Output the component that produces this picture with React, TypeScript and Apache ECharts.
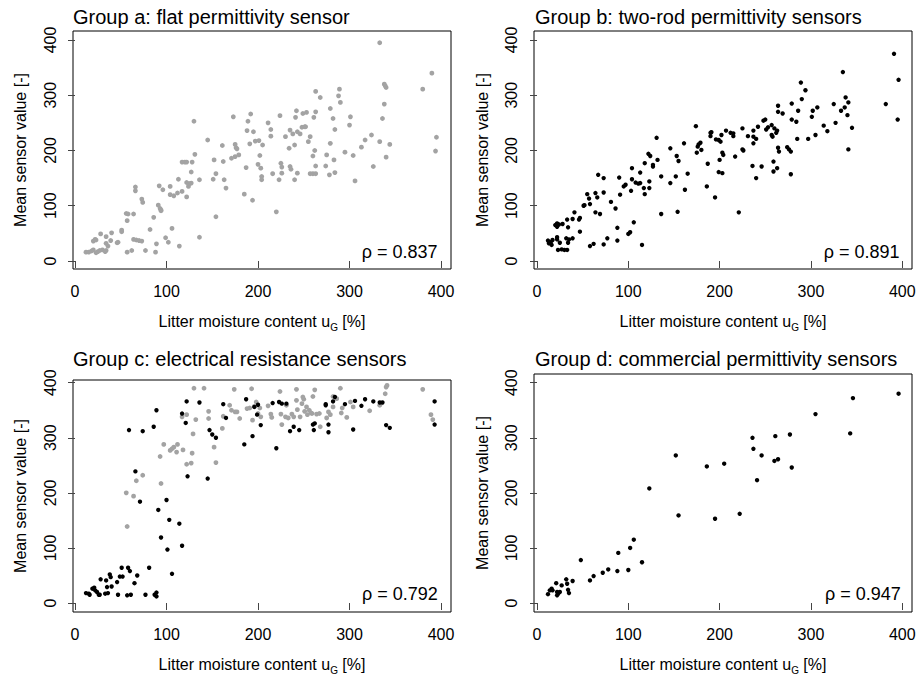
import React, { useEffect, useRef } from "react";
import * as echarts from "echarts";

const tickValues = [0, 100, 200, 300, 400];

const titles = [
  "Group a: flat permittivity sensor",
  "Group b: two-rod permittivity sensors",
  "Group c: electrical resistance sensors",
  "Group d: commercial permittivity sensors",
];
const rhoLabels = ["ρ = 0.837", "ρ = 0.891", "ρ = 0.792", "ρ = 0.947"];
const xAxisTitle = "Litter moisture content u";
const xAxisSub = "G";
const xAxisTail = " [%]";
const yAxisTitle = "Mean sensor value [-]";

const groupA = [
  [12,16],[15,16],[18,18],[20,20],[23,15],[25,17],[27,19],[30,20],[33,17],[34,19],
  [20,36],[22,39],[23,38],[28,49],[34,32],[34,44],[36,27],[39,37],[40,51],[46,33],[47,34],
  [51,56],[51,53],[56,86],[58,85],[57,73],[64,85],[57,16],[62,19],
  [66,134],[66,127],[73,112],[74,106],
  [64,39],[67,38],[70,37],[73,36],[77,19],[82,57],[86,79],[88,16],[89,31],
  [91,101],[93,95],[94,92],[94,91],[92,136],[96,129],[99,42],[102,34],[104,135],[104,120],[106,59],[108,118],[112,123],[113,148],[114,27],
  [117,179],[120,179],[122,179],[117,126],[122,142],[122,116],[124,135],[125,140],[127,141],[127,161],[128,179],[131,193],[130,253],[136,147],[136,43],
  [145,219],[151,148],[152,183],[154,158],[154,80],[161,209],[162,180],[163,147],[165,132],
  [171,186],[173,261],[175,189],[175,211],[176,205],[177,203],[179,192],[185,121],[187,169],[189,253],[188,236],[192,266],[191,212],[194,110],[195,234],
  [197,217],[200,175],[201,218],[202,191],[203,168],[204,153],[204,147],[205,210],
  [211,250],[214,238],[214,226],[220,89],[216,158],[223,147],[224,263],[225,177],[226,170],[226,159],[230,225],[234,204],[235,237],[235,171],[236,166],[238,230],[240,147],[240,210],[241,260],[242,272],[243,234],[243,159],[246,230],[248,242],[249,267],[251,243],[252,243],[253,269],[255,216],[257,225],[257,158],[260,158],[260,190],[261,260],[262,200],[263,270],[263,172],[263,158],[263,307],[268,296],[274,172],[275,192],[278,156],[279,213],[279,276],[282,258],[283,183],[284,160],[284,238],[288,299],[289,311],[290,287],[295,197],[300,246],[301,261],[304,191],[306,145],[313,206],[317,219],[324,228],[326,171],[333,216],[333,395],[336,258],[338,284],[338,320],[339,317],[340,314],[340,188],[344,211],[380,311],[390,340],[395,224],[394,199],
];

const groupB = [
  [12,37],[13,32],[15,34],[16,29],[17,38],[22,43],[22,39],[23,20],[25,33],[27,21],[30,20],[33,20],[32,41],[34,33],[35,39],[34,61],[20,65],[22,68],[22,62],[24,66],[28,67],[33,75],[39,41],[39,76],[41,88],[46,75],[47,78],[47,53],
  [51,100],[52,101],[55,121],[57,113],[58,103],[58,27],[62,31],[64,123],[66,115],[64,88],[69,85],[67,156],[73,150],[73,30],[73,124],[77,41],[81,107],[86,95],[88,60],[88,37],[90,151],[91,120],
  [95,135],[97,138],[100,49],[102,52],[103,127],[104,148],[104,168],[106,70],[108,142],[111,140],[113,141],[113,160],[118,177],[117,132],[118,121],[123,132],[122,194],[124,190],[123,144],[127,171],[127,174],[131,223],[132,183],[115,29],
  [136,85],[136,153],[146,141],[146,204],[152,153],[153,190],[154,89],[155,181],[161,213],[162,129],[165,158],
  [174,244],[176,207],[177,211],[179,214],[175,196],[180,201],[186,135],[187,176],[190,232],[191,233],[190,226],[195,115],[196,220],[199,161],[199,219],[200,183],[201,216],[202,228],[203,196],[203,159],[204,192],
  [207,236],[212,232],[215,231],[215,226],[217,189],[221,88],[225,240],[225,202],[226,200],[231,226],[236,172],[237,236],[237,225],[237,213],[240,221],[240,150],[242,243],[246,171],[248,254],[250,256],[251,238],[253,242],[257,246],[257,228],[258,225],[259,180],[259,162],[260,240],[262,232],[263,236],[263,168],[264,281],[264,270],[264,205],[265,198],[269,267],[274,206],[276,202],[278,198],[278,157],[279,285],[279,256],[284,252],[285,221],[286,272],[289,323],[290,293],[294,309],[297,221],[301,261],[302,272],[305,228],[307,278],[314,245],[318,235],[325,284],[327,250],[333,272],[335,342],[337,278],[338,296],[340,264],[341,287],[341,202],[345,241],[382,284],[391,375],[395,256],[396,328],
];

const groupCGray = [
  [56,200],[57,139],[64,194],[67,222],[74,232],[93,266],[97,288],[94,217],[104,277],[106,280],[108,283],[111,274],[112,288],[117,338],[118,278],[122,252],[122,342],[127,254],[128,272],[129,307],[130,390],[132,333],[141,390],[146,348],[146,335],[152,283],[154,255],[161,317],[162,339],[169,359],[171,350],[174,388],[175,347],[177,347],[180,335],[188,353],[191,354],[193,389],[194,332],[196,357],[198,365],[200,344],[202,354],[203,338],[211,358],[214,343],[215,337],[224,384],[225,343],[226,324],[230,338],[231,359],[233,336],[237,343],[239,338],[242,388],[242,368],[243,351],[246,338],[248,362],[249,374],[250,370],[251,348],[253,356],[254,342],[256,350],[258,345],[259,344],[260,375],[262,387],[264,343],[267,344],[268,320],[275,336],[277,347],[279,342],[282,356],[282,375],[286,371],[290,390],[291,345],[292,354],[297,337],[301,365],[304,356],[322,349],[333,359],[339,380],[340,392],[341,395],[380,388],[389,342],[391,333],
];

const groupCBlack = [
  [12,18],[15,17],[16,15],[19,26],[21,28],[22,23],[24,20],[26,15],[27,15],[28,43],[33,17],[34,41],[35,29],[36,18],[38,52],[39,47],[40,30],[46,38],[47,15],[49,48],[51,64],[52,48],[57,14],[58,64],[60,58],[61,15],[65,36],[68,50],[77,15],[81,64],[87,15],[89,12],[89,19],[106,53],
  [59,314],[66,239],[71,184],[74,312],[86,320],[89,350],[91,169],[94,119],[100,187],[101,97],[103,151],[114,144],[117,104],[117,344],[121,327],[122,366],[123,230],[136,364],[145,226],[147,314],[150,306],[154,300],[162,361],[165,336],[185,288],[187,370],[194,303],[196,356],[199,342],[200,360],[203,323],[216,363],[220,281],[223,365],[226,362],[231,362],[235,312],[239,320],[245,314],[260,324],[261,314],[262,326],[274,361],[274,359],[277,310],[277,324],[282,366],[284,374],[295,361],[304,315],[306,367],[313,358],[317,370],[326,366],[333,364],[336,364],[340,323],[344,318],[393,366],[393,324],
];

const groupD = [
  [12,16],[14,23],[16,26],[17,23],[21,36],[22,20],[22,14],[23,17],[25,20],[27,32],[32,43],[33,35],[34,24],[35,18],[39,40],[48,78],[58,41],[62,49],[72,55],[78,61],[88,58],[89,91],[100,60],[102,100],[106,115],[115,74],[123,208],[152,268],[155,159],[186,248],[195,153],[205,253],[222,162],[236,300],[237,280],[241,223],[246,268],[260,258],[261,303],[264,261],[277,306],[279,246],[305,343],[343,308],[346,372],[396,380],
];

const FONT = "Liberation Sans, Arial, Helvetica, sans-serif";

// panel layout: grid rect in px and axis ranges
const panels = [
  { left: 73, top: 31, width: 378, height: 238, xmin: -2.2, xmax: 410.9, ymin: -14.5, ymax: 416.3, titleX: 73, titleY: 16.5, rhoX: 437.5, rhoY: 252, yTitleX: 20, xTitleY: 321.5 },
  { left: 534, top: 31, width: 378, height: 238, xmin: -3.3, xmax: 410.7, ymin: -14.5, ymax: 416.3, titleX: 535, titleY: 16.5, rhoX: 899.5, rhoY: 252, yTitleX: 482, xTitleY: 321.5 },
  { left: 73, top: 380, width: 378, height: 232, xmin: -2.2, xmax: 410.9, ymin: -16.3, ymax: 404.9, titleX: 73, titleY: 359, rhoX: 437.7, rhoY: 594, yTitleX: 20, xTitleY: 664 },
  { left: 534, top: 374, width: 378, height: 238, xmin: -3.3, xmax: 410.7, ymin: -16.3, ymax: 415.8, titleX: 535, titleY: 359, rhoX: 900.7, rhoY: 594, yTitleX: 482, xTitleY: 664 },
];

export default function App() {
  const ref = useRef<HTMLDivElement>(null);
  useEffect(() => {
    if (!ref.current) return;
    const chart = echarts.init(ref.current, undefined, { renderer: "svg" });

    const grid = panels.map((p) => ({
      left: p.left, top: p.top, width: p.width, height: p.height,
      show: true, borderColor: "#000", borderWidth: 1, backgroundColor: "transparent",
    }));

    const tickStyle = { show: true, inside: false, length: 7, customValues: tickValues, lineStyle: { color: "#444", width: 1 } };

    const xAxis = panels.map((p, i) => ({
      gridIndex: i, type: "value", min: p.xmin, max: p.xmax,
      axisLine: { show: false }, splitLine: { show: false },
      axisTick: tickStyle,
      axisLabel: { customValues: tickValues, margin: 14, fontSize: 16, color: "#000", fontFamily: FONT },
    }));
    const yAxis = panels.map((p, i) => ({
      gridIndex: i, type: "value", min: p.ymin, max: p.ymax,
      axisLine: { show: false }, splitLine: { show: false },
      axisTick: tickStyle,
      axisLabel: { customValues: tickValues, margin: 15, fontSize: 16, color: "#000", fontFamily: FONT, rotate: 90 },
    }));

    const mk = (data: number[][], idx: number, color: string, size: number) => ({
      type: "scatter", xAxisIndex: idx, yAxisIndex: idx, data, symbolSize: size,
      itemStyle: { color, opacity: 1 }, silent: true,
    });
    const series = [
      mk(groupA, 0, "#a3a3a3", 4.8),
      mk(groupB, 1, "#000", 4.4),
      mk(groupCGray, 2, "#a3a3a3", 4.8),
      mk(groupCBlack, 2, "#000", 4.4),
      mk(groupD, 3, "#000", 4.4),
    ];

    const graphic: any[] = [];
    panels.forEach((p, i) => {
      graphic.push({
        type: "text", x: p.titleX, y: p.titleY,
        style: { text: titles[i], fontSize: 20, fontFamily: FONT, fill: "#000", textAlign: "left", textVerticalAlign: "middle" },
      });
      graphic.push({
        type: "text", x: p.rhoX, y: p.rhoY,
        style: { text: rhoLabels[i], fontSize: 18, fontFamily: FONT, fill: "#000", textAlign: "right", textVerticalAlign: "middle" },
      });
      graphic.push({
        type: "text", x: p.yTitleX, y: p.top + p.height / 2, rotation: Math.PI / 2,
        style: { text: yAxisTitle, fontSize: 16, fontFamily: FONT, fill: "#000", textAlign: "center", textVerticalAlign: "middle" },
      });
      graphic.push({
        type: "text", x: p.left + p.width / 2, y: p.xTitleY,
        style: {
          text: `{n|${xAxisTitle}}{s|${xAxisSub}}{n|${xAxisTail}}`,
          fontFamily: FONT, fill: "#000", textAlign: "center", textVerticalAlign: "middle",
          rich: {
            n: { fontSize: 16, lineHeight: 16, verticalAlign: "top", fontFamily: FONT, fill: "#000" },
            s: { fontSize: 10, lineHeight: 10, verticalAlign: "top", padding: [9, 0, 0, 0], fontFamily: FONT, fill: "#000" },
          },
        },
      });
    });

    chart.setOption({
      animation: false,
      backgroundColor: "#fff",
      textStyle: { fontFamily: FONT },
      grid, xAxis, yAxis, series, graphic,
    } as any);
    return () => chart.dispose();
  }, []);
  return <div ref={ref} style={{ position: "fixed", left: 0, top: 0, width: 921, height: 677 }} />;
}
